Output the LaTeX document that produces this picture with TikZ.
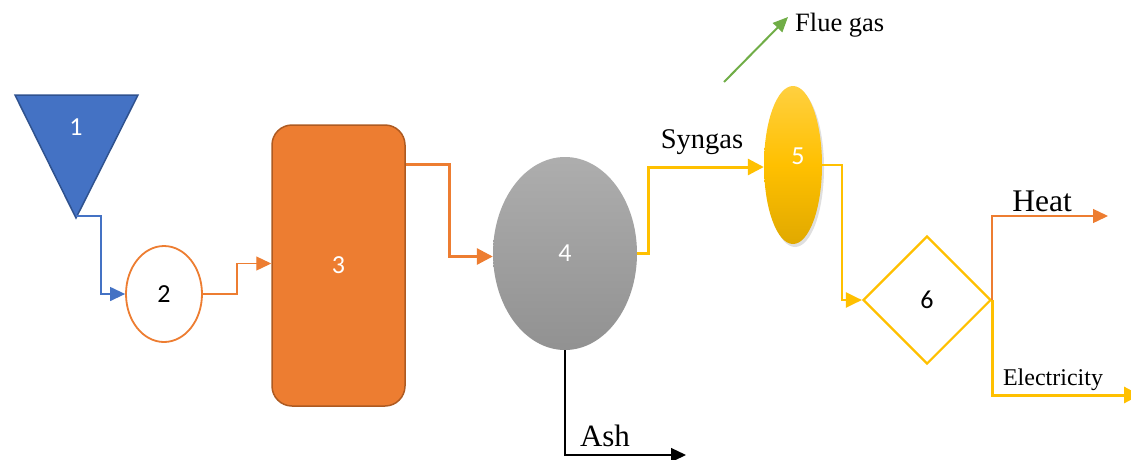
\documentclass[tikz,border=0pt]{standalone}
\usepackage{fontspec}
\setmainfont{Liberation Serif}
\newfontfamily\numfont{Carlito}
\usetikzlibrary{shapes.geometric,arrows.meta,shadows,calc}
\definecolor{oblue}{HTML}{4472C4}
\definecolor{oblueb}{HTML}{2F528F}
\definecolor{oorange}{HTML}{ED7D31}
\definecolor{oorangeb}{HTML}{AE5A21}
\definecolor{oyellow}{HTML}{FFC000}
\definecolor{ogreen}{HTML}{70AD47}
\tikzset{
  numlbl/.style={font=\numfont\fontsize{26}{28}\selectfont},
  flow/.style={-{Triangle[length=15pt,width=14pt]}, line width=1.3pt},
  thickflow/.style={-{Triangle[length=16pt,width=16pt]}, line width=3pt},
  lbl/.style={inner sep=0pt, font=\fontsize{#1}{#1}\selectfont},
}
\begin{document}
\begin{tikzpicture}[x=1pt,y=-1pt]
\useasboundingbox (0,0) rectangle (1131,459);
% 1 triangle
\draw[fill=oblue, draw=oblueb, line width=1.5pt, line join=miter] (15,95) -- (138,95) -- (76,218) -- cycle;
\node[numlbl, text=white] (n1) at (76,127) {1};
\coordinate (tip) at (76,216);
% 2 ellipse
\node[ellipse, draw=oorange, line width=1.8pt, fill=white, minimum width=76pt, minimum height=96pt, inner sep=0pt, numlbl] (n2) at (164,294) {2};
% 3 rounded rect
\node[rectangle, rounded corners=20pt, fill=oorange, draw=oorangeb, line width=1.5pt, minimum width=133pt, minimum height=281pt, inner sep=0pt, numlbl, text=white] (n3) at (338.5,265.5) {3};
% 4 gray ellipse
\node[ellipse, top color=black!32, bottom color=black!43, minimum width=144pt, minimum height=193pt, inner sep=0pt, numlbl, text=white] (n4) at (565,253.5) {4};
% 5 yellow ellipse
\node[ellipse, top color=oyellow!75!white, bottom color=oyellow!88!black, middle color=oyellow, drop shadow={opacity=0.25, shadow xshift=2pt, shadow yshift=-3pt}, minimum width=58pt, minimum height=158pt, inner sep=0pt, numlbl, text=white] (n5) at (793,165) {};
\node[numlbl, text=white] (n5l) at (798,156) {5};
% 6 diamond
\node[diamond, draw=oyellow, line width=2.2pt, fill=white, minimum width=128pt, minimum height=128pt, inner sep=0pt, numlbl] (n6) at (927,300) {6};
% connectors
\draw[flow, draw=oblue] (tip) -- ++(25,0) |- (n2.west);
\draw[flow, draw=oorange] (n2.east) -- ++(34,0) |- ([yshift=2pt]n3.west);
\draw[thickflow, draw=oorange] ([yshift=-40pt]n3.north east) -- ++(44,0) |- ([yshift=-3pt]n4.west);
\draw[thickflow, draw=oyellow] (n4.east) -- ++(11,0) |- ([yshift=-2pt]n5.west);
\draw[-{Triangle[length=16pt,width=15pt]}, line width=2.2pt, draw=oyellow] (n5.east) -- ++(20,0) |- (n6.west);
\coordinate (heatend) at (1108,216);
\coordinate (elecend) at (1140,395);
\draw[flow, draw=oorange] (n6.east) |- (heatend);
\draw[thickflow, draw=oyellow] (n6.east) |- (elecend);
\coordinate (ashend) at (686,455);
\draw[flow, draw=black] (n4.south) |- (ashend);
\coordinate (flues) at (724,82);
\coordinate (fluee) at (788,17);
\draw[-{Triangle[length=15pt,width=13pt]}, line width=2pt, draw=ogreen] (flues) -- (fluee);
% labels
\node[lbl=28.5] (syngas) at (702,142) {Syngas};
\node[lbl=26.5, anchor=west] (flue) at (795,25) {Flue gas};
\node[lbl=31.5] (heat) at (1042,201) {Heat};
\node[lbl=24] (elec) at (1053,380) {Electricity};
\node[lbl=31] (ash) at (605,436) {Ash};
\end{tikzpicture}
\end{document}
